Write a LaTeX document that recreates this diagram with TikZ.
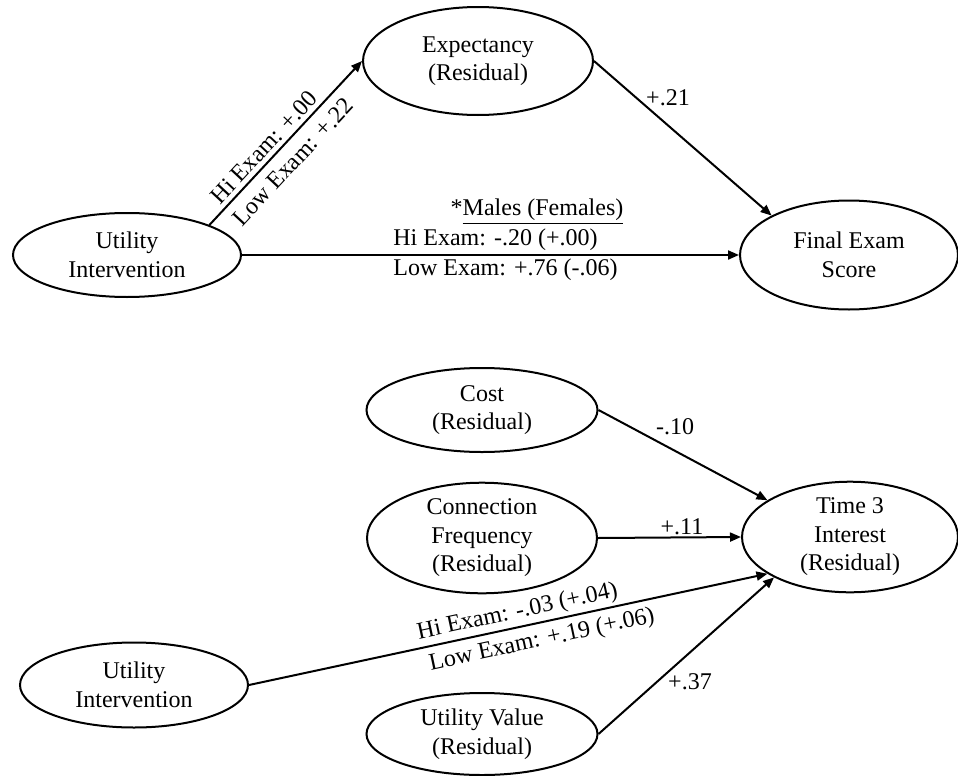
\documentclass[tikz,border=0pt]{standalone}
\usepackage{fontspec}
\setmainfont{Liberation Serif}
\usetikzlibrary{shapes.geometric,arrows.meta}
\begin{document}
\begin{tikzpicture}[x=0.5pt,y=-0.5pt,
  ell/.style={ellipse, draw, line width=1pt, inner sep=0pt, align=center,
    font=\fontsize{12}{14.3}\selectfont},
  lbl/.style={font=\fontsize{12}{14.3}\selectfont, inner sep=0pt},
  arr/.style={line width=1pt, -{Triangle[length=5.5pt,width=4.5pt]}}
]
\useasboundingbox (0,0) rectangle (958,776);

% ---------- top model ----------
\node[ell, minimum width=114pt, minimum height=42pt] (ui1) at (127,255) {Utility\\Intervention};
\node[ell, minimum width=115pt, minimum height=54pt] (exp) at (478,61) {Expectancy\\(Residual)};
\node[ell, minimum width=109pt, minimum height=54.5pt] (fin) at (849,255) {Final Exam\\Score};

\draw[arr] (ui1.20) -- (exp.west)
  node[lbl, sloped, pos=0.42, above=2pt] (l1a) {Hi Exam: +.00}
  node[lbl, sloped, pos=0.46, below=4.5pt] (l1b) {Low Exam: +.22};
\draw[arr] (exp.east) -- (fin.153);
\draw[arr] (ui1.east) -- (fin.west);

\node[lbl] (l21) at (668,98) {+.21};
\node[lbl] (lmf) at (537,212) {*\underline{Males (Females)}};
\node[lbl, anchor=west] (lhi) at (393,240) {Hi Exam: -.20 (+.00)};
\node[lbl, anchor=west] (llo) at (393,270) {Low Exam: +.76 (-.06)};

% ---------- bottom model ----------
\node[ell, minimum width=115.5pt, minimum height=42pt] (cost) at (482,410) {Cost\\(Residual)};
\node[ell, minimum width=115pt, minimum height=50pt] (conn) at (482,538) {Connection\\Frequency\\(Residual)};
\node[ell, minimum width=108pt, minimum height=50pt] (t3) at (850,537) {Time 3\\Interest\\(Residual)};
\node[ell, minimum width=114pt, minimum height=42.5pt] (ui2) at (134,685) {Utility\\Intervention};
\node[ell, minimum width=115.5pt, minimum height=41pt] (uv) at (482,734) {Utility Value\\(Residual)};

\draw[arr] (cost.east) -- (t3.156);
\draw[arr] (conn.east) -- (t3.west);
\draw[arr] (ui2.east) -- (t3.204)
  node[lbl, sloped, pos=0.524, above=1.5pt] (l3a) {Hi Exam: -.03 (+.04)}
  node[lbl, sloped, pos=0.558, below=3pt] (l3b) {Low Exam: +.19 (+.06)};
\draw[arr] (uv.east) -- (t3.208);

\node[lbl] (l10) at (675,427) {-.10};
\node[lbl] (l11) at (682,527) {+.11};
\node[lbl] (l37) at (690,682) {+.37};
\end{tikzpicture}
\end{document}
